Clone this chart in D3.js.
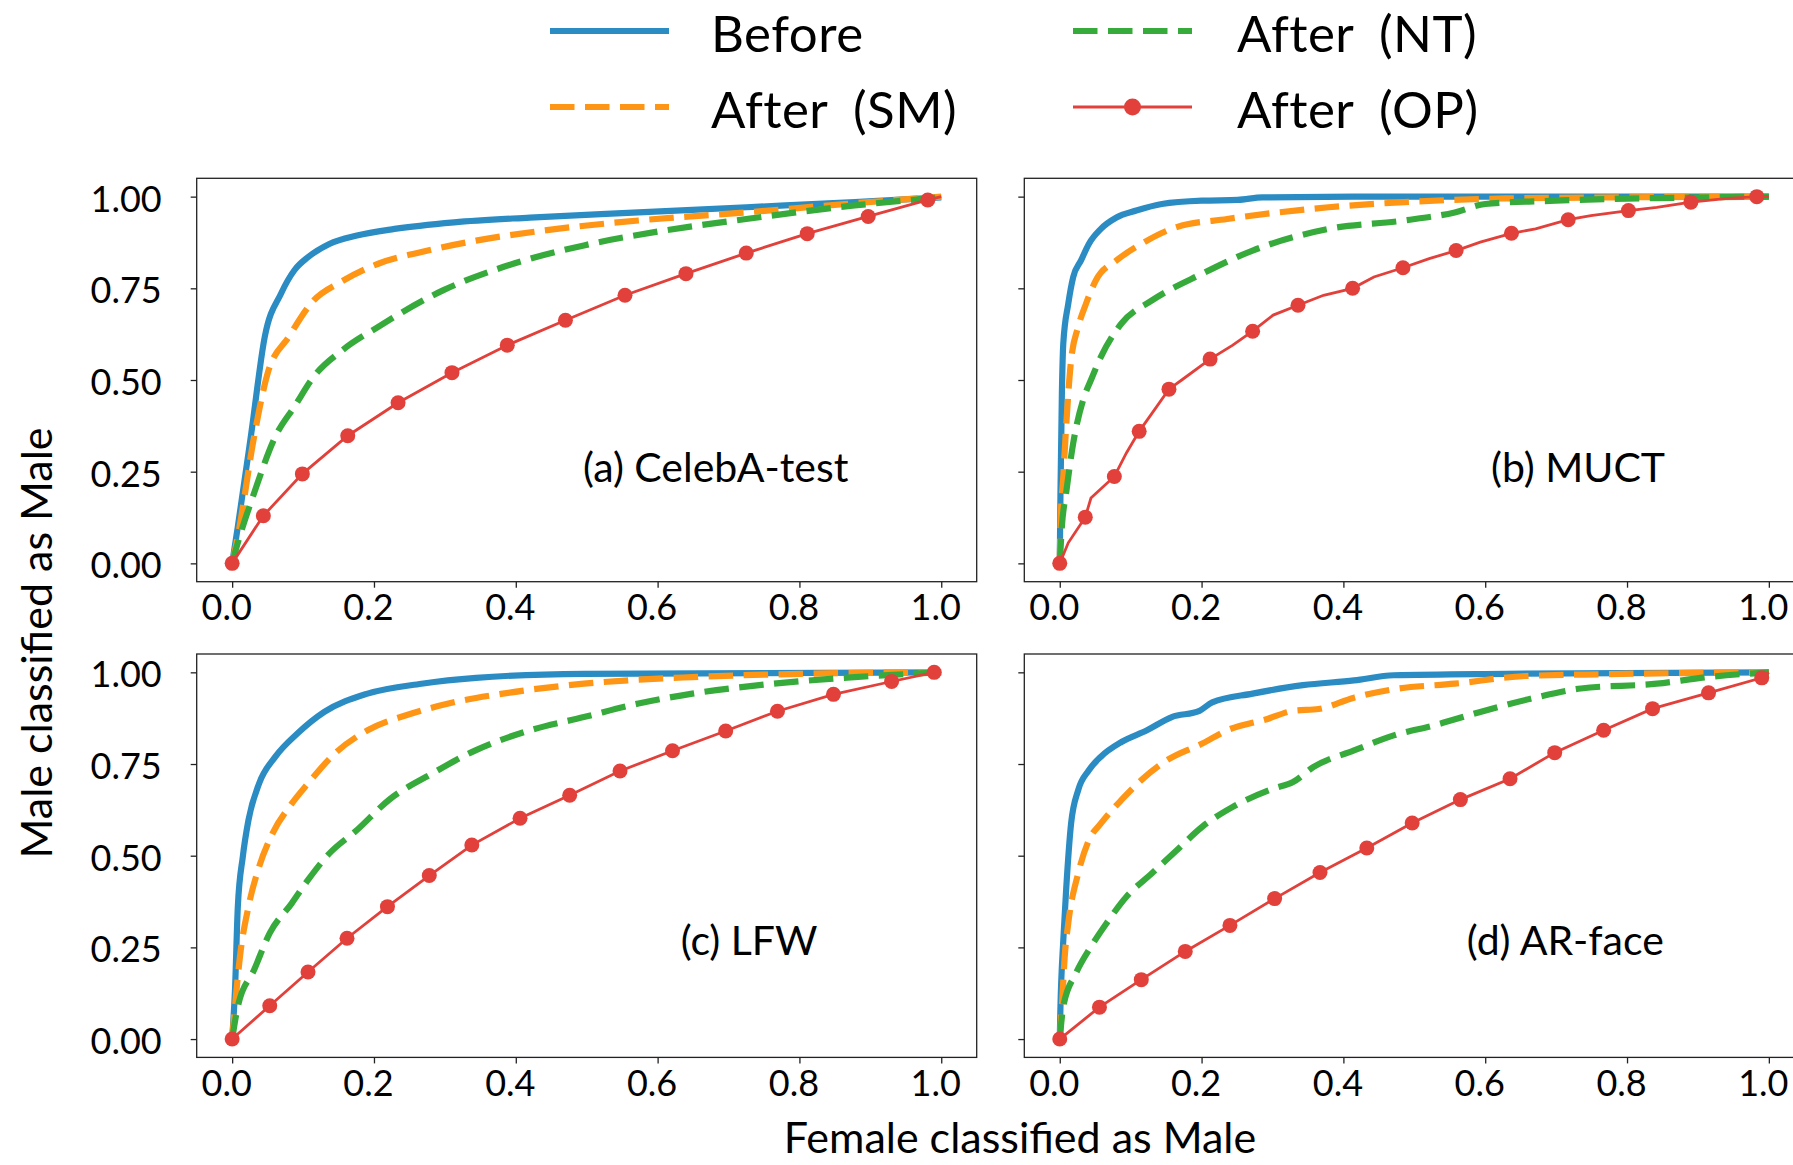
<!DOCTYPE html>
<html>
<head>
<meta charset="utf-8">
<script src="https://cdn.jsdelivr.net/npm/d3@7"></script>
<style>
    body { margin: 0; background: #fff; }
    svg text { font-family: Lato, "Open Sans", sans-serif; fill: #000; }
</style>
</head>
<body>
<div id="main"></div>
<script>
// ticks and names
var xTicks = [0, 0.2, 0.4, 0.6, 0.8, 1.0];
var yTicks = [0, 0.25, 0.5, 0.75, 1.0];
var seriesNames = ["Before", "After (SM)", "After (NT)", "After (OP)"];
var panelTitles = ["(a) CelebA-test", "(b) MUCT", "(c) LFW", "(d) AR-face"];

// (a) CelebA-test
var celebaBefore = [[0,0],[0.008,0.10],[0.027,0.355],[0.046,0.618],[0.069,0.736],[0.088,0.80],[0.107,0.835],[0.137,0.871],[0.176,0.894],[0.229,0.912],[0.313,0.930],[0.42,0.943],[0.573,0.957],[0.725,0.971],[0.878,0.985],[1,0.998]];
var celebaSM = [[0,0],[0.008,0.074],[0.031,0.346],[0.05,0.518],[0.08,0.618],[0.115,0.717],[0.153,0.767],[0.206,0.817],[0.267,0.849],[0.344,0.880],[0.458,0.912],[0.573,0.935],[0.725,0.957],[0.878,0.982],[1,1]];
var celebaNT = [[0,0],[0.004,0.029],[0.031,0.192],[0.061,0.346],[0.088,0.428],[0.115,0.509],[0.156,0.582],[0.206,0.645],[0.298,0.745],[0.382,0.808],[0.496,0.867],[0.611,0.908],[0.725,0.939],[0.878,0.976],[1,0.998]];
var celebaOP = [[0,0,1],[0.044,0.130,1],[0.099,0.244,1],[0.163,0.348,1],[0.234,0.438,1],[0.310,0.520,1],[0.388,0.595,1],[0.470,0.663,1],[0.554,0.731,1],[0.640,0.790,1],[0.725,0.846,1],[0.811,0.899,1],[0.897,0.946,1],[0.981,0.991,1],[1,1,0]];

// (b) MUCT
var muctBefore = [[0,0],[0.001,0.192],[0.003,0.464],[0.005,0.6],[0.012,0.708],[0.019,0.781],[0.030,0.826],[0.041,0.871],[0.058,0.912],[0.080,0.943],[0.108,0.962],[0.144,0.980],[0.201,0.989],[0.251,0.991],[0.286,0.998],[0.415,1.0],[1,1]];
var muctSM = [[0,0],[0.001,0.101],[0.005,0.237],[0.009,0.373],[0.016,0.554],[0.026,0.645],[0.037,0.708],[0.051,0.772],[0.080,0.826],[0.115,0.871],[0.165,0.917],[0.236,0.939],[0.308,0.957],[0.379,0.971],[0.486,0.985],[0.628,0.995],[1,1]];
var muctNT = [[0,0],[0.003,0.101],[0.009,0.192],[0.019,0.328],[0.033,0.446],[0.044,0.5],[0.058,0.563],[0.087,0.654],[0.130,0.717],[0.201,0.790],[0.272,0.853],[0.379,0.912],[0.486,0.935],[0.557,0.957],[0.6,0.98],[0.699,0.989],[0.842,0.996],[1,1]];
var muctOP = [[0,0,1],[0.012,0.056,0],[0.036,0.126,1],[0.044,0.178,0],[0.077,0.237,1],[0.094,0.301,0],[0.112,0.360,1],[0.130,0.409,0],[0.154,0.475,1],[0.172,0.5,0],[0.212,0.557,1],[0.244,0.595,0],[0.272,0.633,1],[0.301,0.677,0],[0.336,0.704,1],[0.372,0.731,0],[0.413,0.75,1],[0.443,0.781,0],[0.484,0.806,1],[0.521,0.831,0],[0.559,0.853,1],[0.593,0.876,0],[0.637,0.900,1],[0.671,0.912,0],[0.717,0.937,1],[0.749,0.948,0],[0.802,0.962,1],[0.842,0.971,0],[0.890,0.985,1],[0.942,0.995,0],[0.983,1.0,1],[1,1,0]];

// (c) LFW
var lfwBefore = [[0,0],[0.004,0.134],[0.008,0.361],[0.015,0.497],[0.023,0.597],[0.038,0.697],[0.061,0.770],[0.092,0.833],[0.130,0.892],[0.191,0.942],[0.267,0.969],[0.344,0.985],[0.496,0.996],[1,1]];
var lfwSM = [[0,0],[0.004,0.089],[0.011,0.225],[0.023,0.361],[0.038,0.47],[0.057,0.561],[0.084,0.642],[0.107,0.697],[0.145,0.779],[0.191,0.842],[0.252,0.887],[0.305,0.915],[0.382,0.942],[0.496,0.969],[0.649,0.987],[0.802,0.996],[1,1]];
var lfwNT = [[0,0],[0.008,0.089],[0.031,0.189],[0.053,0.289],[0.084,0.370],[0.107,0.434],[0.137,0.506],[0.176,0.570],[0.221,0.652],[0.282,0.724],[0.344,0.788],[0.420,0.842],[0.496,0.878],[0.573,0.915],[0.649,0.942],[0.763,0.969],[0.878,0.987],[1,1]];
var lfwOP = [[0,0,1],[0.053,0.091,1],[0.107,0.183,1],[0.162,0.275,1],[0.219,0.361,1],[0.278,0.446,1],[0.338,0.529,1],[0.406,0.602,1],[0.476,0.665,1],[0.547,0.731,1],[0.621,0.786,1],[0.696,0.840,1],[0.769,0.894,1],[0.848,0.940,1],[0.930,0.975,1],[0.990,1.0,1]];

// (d) AR-face
var arBefore = [[0,0],[0.001,0.089],[0.005,0.270],[0.009,0.407],[0.016,0.588],[0.026,0.679],[0.041,0.733],[0.058,0.770],[0.087,0.810],[0.123,0.842],[0.158,0.878],[0.197,0.895],[0.215,0.918],[0.272,0.942],[0.343,0.965],[0.415,0.978],[0.471,0.992],[0.628,0.996],[1,1]];
var arSM = [[0,0],[0.003,0.089],[0.007,0.225],[0.012,0.316],[0.026,0.452],[0.041,0.542],[0.058,0.588],[0.087,0.652],[0.115,0.706],[0.151,0.760],[0.201,0.806],[0.236,0.842],[0.293,0.873],[0.329,0.895],[0.365,0.9],[0.415,0.931],[0.471,0.954],[0.557,0.969],[0.657,0.990],[0.771,0.995],[1,1]];
var arNT = [[0,0],[0.005,0.089],[0.023,0.180],[0.044,0.252],[0.066,0.316],[0.094,0.388],[0.130,0.452],[0.165,0.515],[0.201,0.579],[0.244,0.633],[0.301,0.683],[0.329,0.701],[0.358,0.742],[0.415,0.787],[0.471,0.828],[0.529,0.856],[0.593,0.892],[0.664,0.928],[0.735,0.956],[0.842,0.969],[0.913,0.987],[1,1]];
var arOP = [[0,0,1],[0.056,0.087,1],[0.115,0.162,1],[0.177,0.239,1],[0.240,0.310,1],[0.303,0.383,1],[0.367,0.454,1],[0.433,0.521,1],[0.497,0.589,1],[0.565,0.653,1],[0.635,0.710,1],[0.698,0.781,1],[0.767,0.842,1],[0.836,0.901,1],[0.915,0.944,1],[0.990,0.985,1],[1,1,0]];

var ctx = {
    w: 1793,
    h: 1165,
    pw: 780,
    ph: 403.4,
    lefts: [196.7, 1024.3],
    tops: [178.3, 654],
    colors: ["#2b8cc4", "#ff9514", "#36ab3b", "#e2403a"],
    // where each panel title sits (data units: centre x, baseline y)
    titlePos: [[0.682, 0.223], [0.731, 0.223], [0.729, 0.229], [0.713, 0.229]],
};

var panels = [
    [celebaBefore, celebaSM, celebaNT, celebaOP],
    [muctBefore, muctSM, muctNT, muctOP],
    [lfwBefore, lfwSM, lfwNT, lfwOP],
    [arBefore, arSM, arNT, arOP],
];

var createViz = function () {
    var svg = d3.select("#main").append("svg")
        .attr("width", ctx.w)
        .attr("height", ctx.h);

    var x = d3.scaleLinear().domain([-0.05, 1.05]).range([0, ctx.pw]);
    var y = d3.scaleLinear().domain([-0.05, 1.05]).range([ctx.ph, 0]);
    var smooth = d3.line().x(d => x(d[0])).y(d => y(d[1])).curve(d3.curveMonotoneX);
    var line = d3.line().x(d => x(d[0])).y(d => y(d[1]));

    panels.forEach(function (series, i) {
        var col = i % 2, row = Math.floor(i / 2);
        var g = svg.append("g")
            .attr("transform", "translate(" + ctx.lefts[col] + "," + ctx.tops[row] + ")");

        // x axis
        var xa = g.append("g")
            .attr("transform", "translate(0," + ctx.ph + ")")
            .call(d3.axisBottom(x).tickValues(xTicks).tickSize(6).tickPadding(7)
                .tickFormat(d3.format(".1f")));
        xa.select(".domain").remove();
        xa.selectAll("line").attr("stroke", "#222").attr("stroke-width", 1.3);
        xa.selectAll("text").attr("font-size", 36).attr("dx", -6)
            .attr("font-family", "Lato, sans-serif");

        // y axis (labels only on the left column)
        var ya = g.append("g")
            .call(d3.axisLeft(y).tickValues(yTicks).tickSize(6).tickPadding(29)
                .tickFormat(col === 0 ? d3.format(".2f") : ""));
        ya.select(".domain").remove();
        ya.selectAll("line").attr("stroke", "#222").attr("stroke-width", 1.3);
        ya.selectAll("text").attr("font-size", 36).attr("dy", "0.4em")
            .attr("font-family", "Lato, sans-serif");

        // curves
        g.append("path").datum(series[0])
            .attr("d", smooth).attr("fill", "none")
            .attr("stroke", ctx.colors[0]).attr("stroke-width", 6.2)
            .attr("stroke-linejoin", "round");
        g.append("path").datum(series[1])
            .attr("d", smooth).attr("fill", "none")
            .attr("stroke", ctx.colors[1]).attr("stroke-width", 6.2)
            .attr("stroke-dasharray", "24.5,10.5");
        g.append("path").datum(series[2])
            .attr("d", smooth).attr("fill", "none")
            .attr("stroke", ctx.colors[2]).attr("stroke-width", 6.2)
            .attr("stroke-dasharray", "24.5,10.5");
        g.append("path").datum(series[3])
            .attr("d", line).attr("fill", "none")
            .attr("stroke", ctx.colors[3]).attr("stroke-width", 2.8);
        g.append("g").selectAll("circle")
            .data(series[3].filter(d => d[2] === 1))
            .enter()
            .append("circle")
            .attr("cx", d => x(d[0]))
            .attr("cy", d => y(d[1]))
            .attr("r", 7.5)
            .attr("fill", ctx.colors[3]);

        // frame
        g.append("rect")
            .attr("width", ctx.pw).attr("height", ctx.ph)
            .attr("fill", "none").attr("stroke", "#222").attr("stroke-width", 1.3);

        // panel title
        g.append("text")
            .attr("x", x(ctx.titlePos[i][0]))
            .attr("y", y(ctx.titlePos[i][1]))
            .attr("text-anchor", "middle")
            .attr("font-size", 41)
            .text(panelTitles[i]);
    });

    // axis labels
    svg.append("text")
        .attr("x", 1020).attr("y", 1153)
        .attr("text-anchor", "middle").attr("font-size", 43)
        .text("Female classified as Male");
    svg.append("text")
        .attr("transform", "translate(52,643) rotate(-90)")
        .attr("text-anchor", "middle").attr("font-size", 43)
        .text("Male classified as Male");

    // legend, two columns
    var legX = [[550, 669, 711], [1073, 1192, 1237]];
    var legY = [[31, 52], [107, 128]];
    seriesNames.forEach(function (name, k) {
        var c = Math.floor(k / 2), r = k % 2;
        var lg = svg.append("g");
        var hy = legY[r][0];
        var ln = lg.append("line")
            .attr("x1", legX[c][0]).attr("x2", legX[c][1])
            .attr("y1", hy).attr("y2", hy)
            .attr("stroke", ctx.colors[k])
            .attr("stroke-width", k === 3 ? 3 : 6.2);
        if (k === 1 || k === 2) ln.attr("stroke-dasharray", "24.5,10.5");
        if (k === 3) {
            lg.append("circle")
                .attr("cx", (legX[c][0] + legX[c][1]) / 2)
                .attr("cy", hy).attr("r", 8.5)
                .attr("fill", ctx.colors[3]);
        }
        lg.append("text")
            .attr("x", legX[c][2]).attr("y", legY[r][1])
            .attr("font-size", 51)
            .attr("letter-spacing", 0.5)
            .attr("word-spacing", 12)
            .text(name);
    });
};

createViz();
</script>
</body>
</html>
